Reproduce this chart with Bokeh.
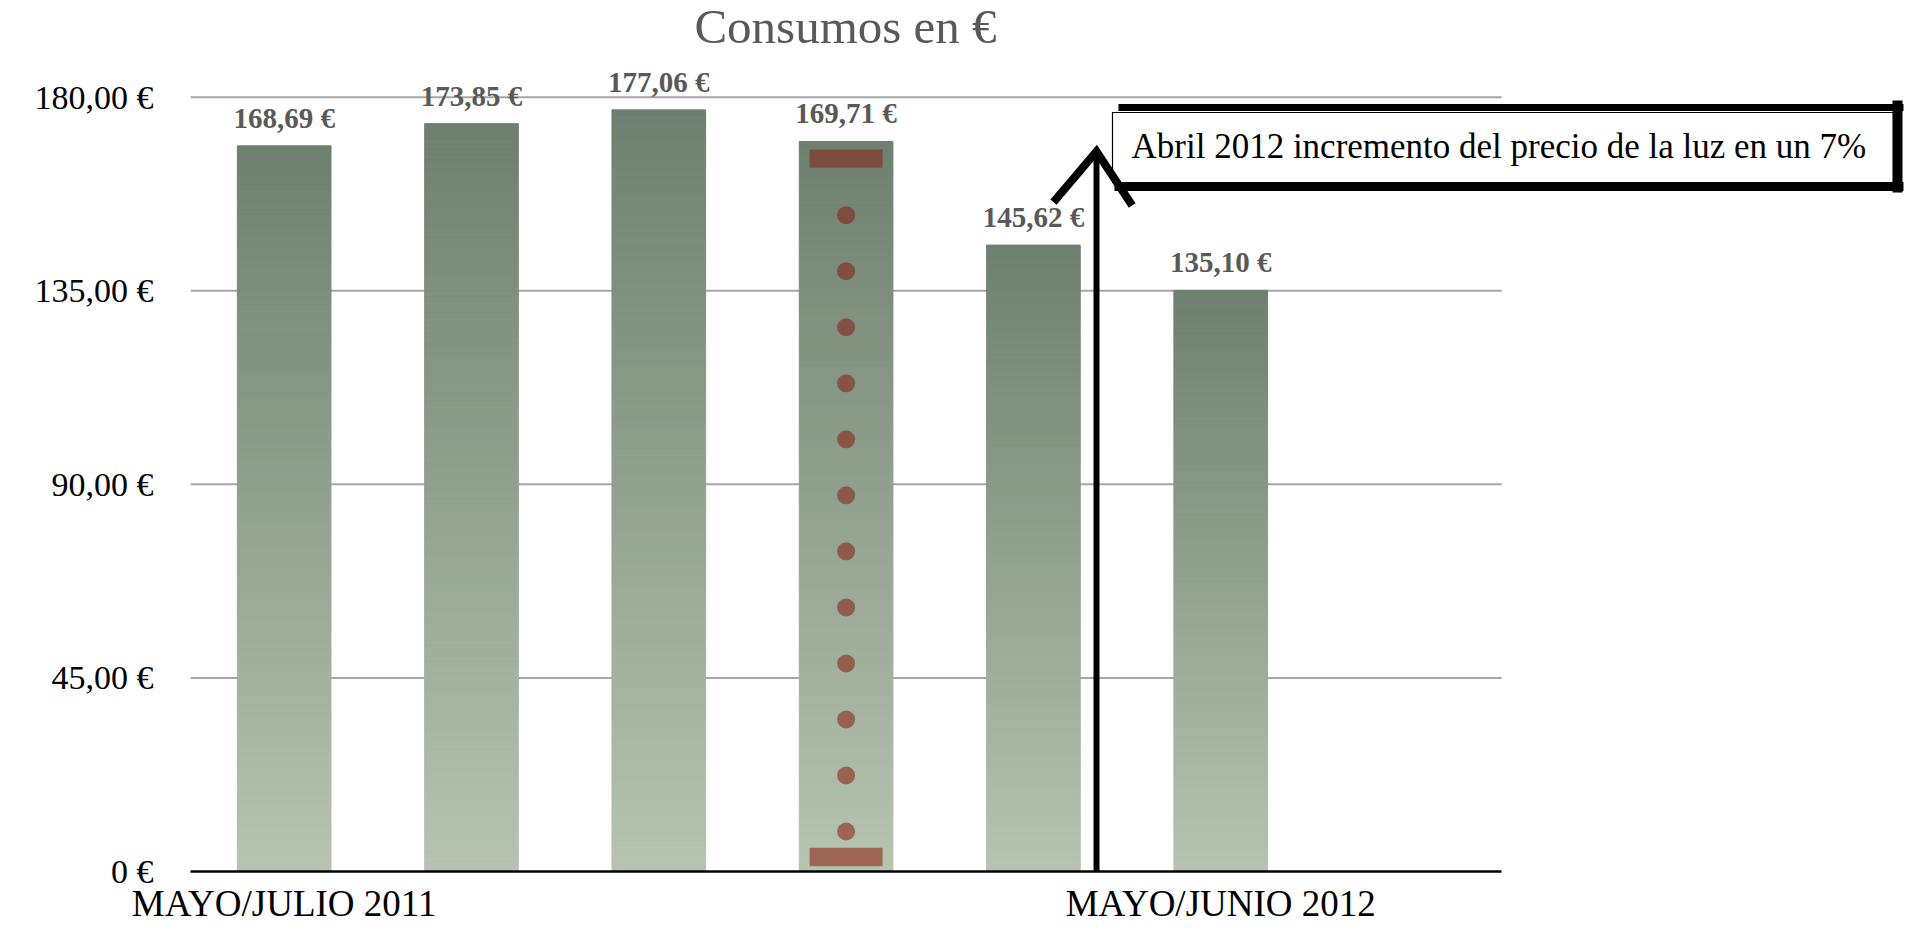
import numpy as np
from bokeh.plotting import figure
from bokeh.models import Range1d, FixedTicker, ColumnDataSource
from bokeh.core.properties import value
from bokeh.embed import file_html
from bokeh.resources import INLINE

# ---------------- data ----------------
slots = [1, 2, 3, 4, 5, 6]
consumos = [168.69, 173.85, 177.06, 169.71, 145.62, 135.10]
consumo_labels = ["168,69 €", "173,85 €", "177,06 €", "169,71 €", "145,62 €", "135,10 €"]
n_slots = 7
x_tick_pos = [1, 6]
x_tick_text = ["MAYO/JULIO 2011", "MAYO/JUNIO 2012"]
y_tick_pos = [0, 45, 90, 135, 180]
y_tick_text = ["0 €", "45,00 €", "90,00 €", "135,00 €", "180,00 €"]
title_text = "Consumos en €"
note_text = "Abril 2012 incremento del precio de la luz en un 7%"
highlight_slot = 4

# ---------------- layout (screen px) ----------------
FONT = "Liberation Serif"
PAGE = 0
W, H = 1912, 926
FRAME_L, FRAME_R, FRAME_T, FRAME_B = 190, 1908, 0, 871
PX_PER_UNIT = (871 - 96.7) / 180.0
SLOT_PX = (1501.2 - 190) / n_slots


def X(sx):
    return 0.5 + (sx - FRAME_L) / SLOT_PX


def Y(sy):
    return (FRAME_B - sy) / PX_PER_UNIT


x_end = X(FRAME_R)
y_end = Y(FRAME_T)

p = figure(width=W, height=H, title=None,
           x_range=Range1d(0.5, x_end), y_range=Range1d(0, y_end),
           output_backend="svg", toolbar_location=None,
           min_border_left=FRAME_L - PAGE, min_border_right=PAGE + W - FRAME_R,
           min_border_top=FRAME_T - PAGE, min_border_bottom=PAGE + H - FRAME_B)
p.outline_line_color = None
p.xgrid.visible = False
p.ygrid.visible = False
p.background_fill_color = "white"
p.border_fill_color = "white"

# x axis (also serves as the baseline)
xa = p.xaxis[0]
xa.ticker = FixedTicker(ticks=x_tick_pos)
xa.major_label_overrides = dict(zip(x_tick_pos, x_tick_text))
xa.bounds = (0.5, n_slots + 0.5)
xa.axis_line_color = "#000000"
xa.axis_line_width = 2.5
xa.major_tick_line_color = None
xa.minor_tick_line_color = None
xa.major_tick_out = 0
xa.major_tick_in = 0
xa.major_label_standoff = 11
xa.major_label_text_font = FONT
xa.major_label_text_font_size = "37px"
xa.major_label_text_color = "#000000"

ya = p.yaxis[0]
ya.ticker = FixedTicker(ticks=y_tick_pos)
ya.major_label_overrides = dict(zip(y_tick_pos, y_tick_text))
ya.axis_line_color = None
ya.major_tick_line_color = None
ya.minor_tick_line_color = None
ya.major_tick_out = 0
ya.major_tick_in = 0
ya.major_label_standoff = 37
ya.major_label_text_font = FONT
ya.major_label_text_font_size = "34px"
ya.major_label_text_color = "#000000"

# horizontal gridlines (only over the bar area)
grid_vals = [v for v in y_tick_pos if v > 0]
p.segment(x0=[0.5] * len(grid_vals), x1=[n_slots + 0.5] * len(grid_vals),
          y0=grid_vals, y1=grid_vals, line_color="#a6a6a6", line_width=2)

# gradient bars
TOP = np.array([110, 128, 111])
BOT = np.array([182, 196, 176])


def hexc(c):
    c = np.clip(np.round(c), 0, 255).astype(int)
    return "#%02x%02x%02x" % tuple(c)


N = 150
bx, bb, bt, bc = [], [], [], []
for s, v in zip(slots, consumos):
    for k in range(N):
        t = (k + 0.5) / N
        bx.append(s)
        bb.append(v * k / N)
        bt.append(v * (k + 1) / N)
        bc.append(hexc(BOT + (TOP - BOT) * t))
bars = ColumnDataSource(dict(x=bx, bottom=bb, top=bt, color=bc))
p.vbar(x="x", width=0.5, bottom="bottom", top="top", source=bars,
       fill_color="color", line_color="color", line_width=1)

# decoration on the highlighted bar
hv = consumos[highlight_slot - 1]
RED_TOP = np.array([122, 74, 60])
RED_BOT = np.array([158, 102, 86])


def redc(y):
    t = y / hv
    return hexc(RED_BOT + (RED_TOP - RED_BOT) * t)


cap_w = (881 - 808) / SLOT_PX
top_cap = (Y(167.3), Y(149))
bot_cap = (Y(865.7), Y(847.3))
p.quad(left=[highlight_slot - cap_w / 2] * 2, right=[highlight_slot + cap_w / 2] * 2,
       bottom=[top_cap[0], bot_cap[0]], top=[top_cap[1], bot_cap[1]],
       fill_color=[redc(sum(top_cap) / 2), redc(sum(bot_cap) / 2)], line_color=None)
dot_y = np.linspace(Y(214.7), Y(831), 12)
p.scatter(x=[highlight_slot] * len(dot_y), y=dot_y, size=18, marker="circle",
          fill_color=[redc(y) for y in dot_y], line_color=None)

# value labels
p.text(x=slots, y=consumos, text=consumo_labels, text_font=value(FONT),
       text_font_style="bold", text_font_size="29px", text_color="#595959",
       text_align="center", text_baseline="alphabetic", y_offset=-28)

# title
p.text(x=[X(845)], y=[Y(26)], text=[title_text], text_font=value(FONT),
       text_font_size="49px", text_color="#595959", text_align="center",
       text_baseline="alphabetic")

# note box
p.quad(left=[X(1112)], right=[X(1893)], top=[Y(112)], bottom=[Y(182)],
       fill_color="white", line_color="#000000", line_width=1.2)
p.segment(x0=[X(1118), X(1114), X(1897)], x1=[X(1903), X(1903), X(1897)],
          y0=[Y(107), Y(186), Y(100)], y1=[Y(107), Y(186), Y(192)],
          line_color="#000000", line_width=[7, 9, 10])
p.text(x=[X(1131)], y=[Y(146)], text=[note_text], text_font=value(FONT),
       text_font_size="35px", text_color="#000000", text_align="left",
       text_baseline="alphabetic")

# arrow
ax = X(1096)
p.multi_line(xs=[[ax, ax], [X(1053), ax, X(1131.7)]],
             ys=[[Y(890), Y(153)], [Y(201.7), Y(151), Y(205)]],
             line_color="#000000", line_width=[6, 8], line_join="miter")

open("out.html", "w").write(file_html(p, INLINE))
